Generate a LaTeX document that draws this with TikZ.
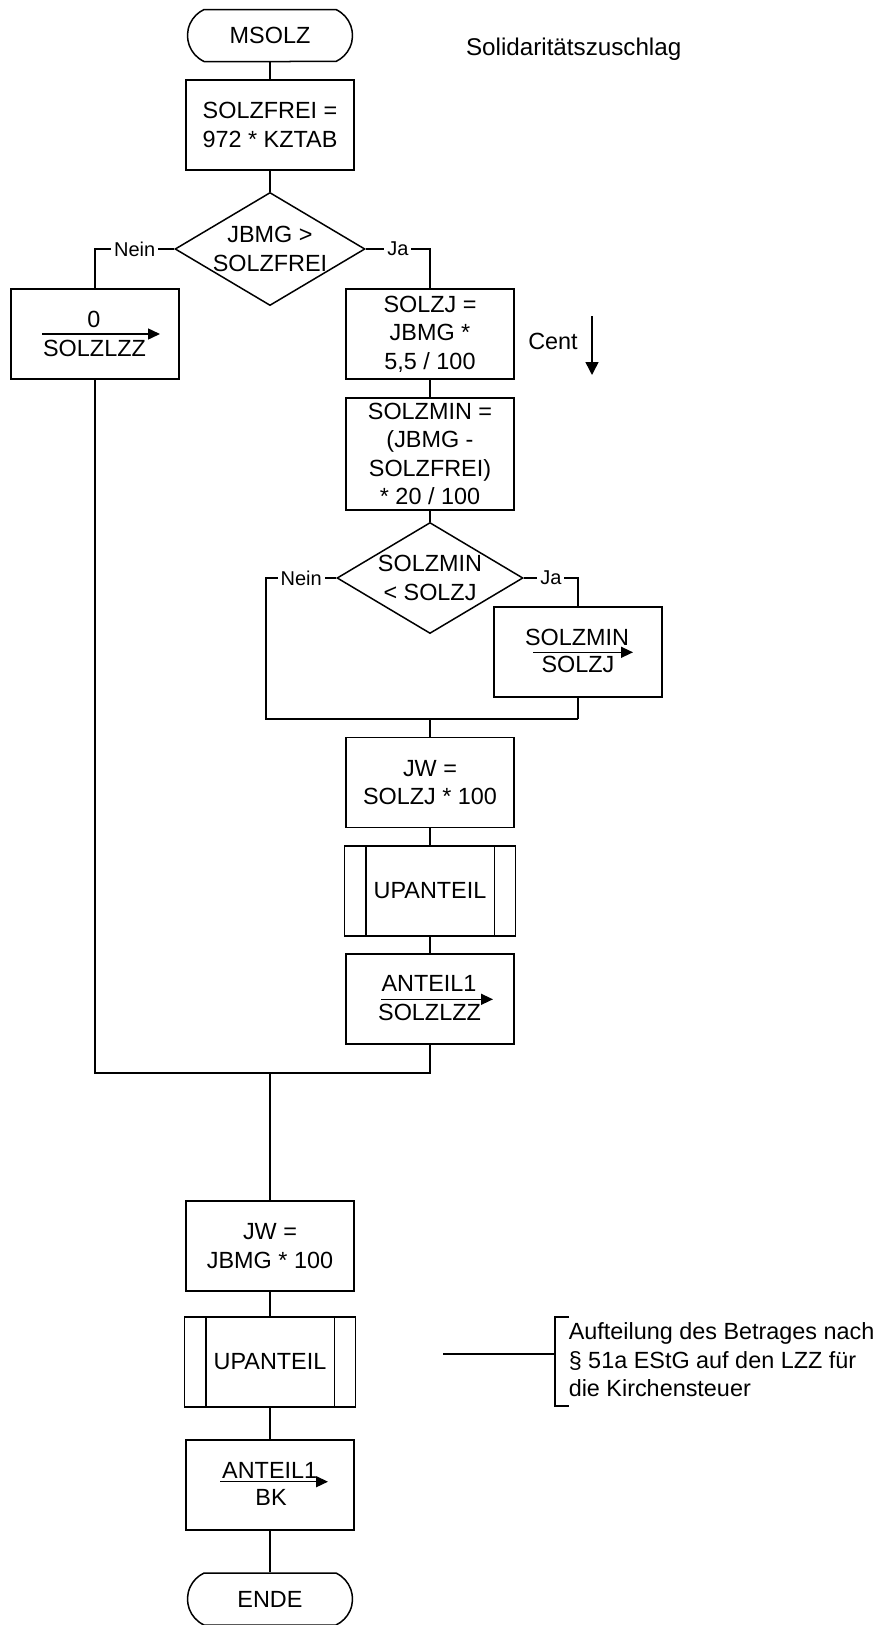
\documentclass[tikz,border=0pt]{standalone}
\usepackage{fontspec}
\setmainfont{Liberation Sans}
\usetikzlibrary{shapes.geometric,shapes.misc,arrows.meta}
\tikzset{
  box/.style={draw, rectangle, inner sep=0pt, minimum width=168pt, minimum height=90pt, align=center},
  term/.style={draw, rounded rectangle, rounded rectangle arc length=130, inner sep=0pt, minimum width=165pt, minimum height=52pt},
  dec/.style={draw, diamond, shape aspect=1.68, inner sep=0pt, minimum width=186pt, minimum height=111pt, align=center},
  lbl/.style={fill=white, inner xsep=3pt, inner ysep=1pt, font=\fontsize{20}{24}\selectfont},
  put/.style={-{Triangle[length=12pt,width=11pt]}},
}
\begin{document}
\begin{tikzpicture}[x=1pt, y=-1pt, line width=1.5pt, every node/.style={font=\fontsize{23.4}{28.4}\selectfont}]
    \useasboundingbox (0,0) rectangle (881,1625);
    \node[term] (ms) at (270,35.5) {MSOLZ};
    \node[anchor=base west, font=\fontsize{24.2}{29}\selectfont] (title) at (462,55) {Solidaritätszuschlag};
    \node[box] (sf) at (270,125) {SOLZFREI =\\972 * KZTAB};
    \node[dec] (d1) at (270,249) {JBMG >\\SOLZFREI};
    \node[box] (b0) at (95,334) {};
    \node[anchor=base] (b0a) at (94,327) {0};
    \node[anchor=base] (b0b) at (94.5,356) {SOLZLZZ};
    \draw[put] (42,334) -- (160,334);
    \node[box] (sj) at (430,334) {SOLZJ =\\JBMG *\\5,5 / 100};
    \node (cent) at (553,341) {Cent};
    \coordinate (c0) at (592,316);
    \coordinate (c1) at (592,375);
    \draw[-{Triangle[length=13pt,width=13pt]}] (c0) -- (c1);
    \node[box, minimum height=112pt] (sm) at (430,454) {SOLZMIN =\\(JBMG -\\SOLZFREI)\\* 20 / 100};
    \node[dec] (d2) at (430,578) {SOLZMIN\\< SOLZJ};
    \node[box] (smj) at (578,652) {};
    \node[anchor=base] (smja) at (577,645) {SOLZMIN};
    \node[anchor=base] (smjb) at (578,672.7) {SOLZJ};
    \draw[put] (533,652.3) -- (633,652.3);
    \coordinate (m1) at (266,719);
    \coordinate (m2) at (578,719);
    \node[box] (jw1) at (430,782.5) {JW =\\SOLZJ * 100};
    \node[box, minimum width=171pt] (up1) at (430,891) {UPANTEIL};
    \draw ([xshift=22pt]up1.north west) -- ([xshift=22pt]up1.south west) ([xshift=-22pt]up1.north east) -- ([xshift=-22pt]up1.south east);
    \node[box] (an1) at (430,999) {};
    \node[anchor=base] (an1a) at (429,991.7) {ANTEIL1};
    \node[anchor=base] (an1b) at (429.5,1020) {SOLZLZZ};
    \draw[put] (381,999.3) -- (493,999.3);
    \coordinate (m3) at (95,1073);
    \coordinate (m4) at (430,1073);
    \node[box] (jw2) at (270,1246) {JW =\\JBMG * 100};
    \node[box, minimum width=171pt] (up2) at (270,1362) {UPANTEIL};
    \draw ([xshift=22pt]up2.north west) -- ([xshift=22pt]up2.south west) ([xshift=-22pt]up2.north east) -- ([xshift=-22pt]up2.south east);
    \node[box] (an2) at (270,1485) {};
    \node[anchor=base] (an2a) at (269.7,1478) {ANTEIL1};
    \node[anchor=base] (an2b) at (271,1505) {BK};
    \draw[put] (220,1481.7) -- (328,1481.7);
    \node[term] (ende) at (270,1599) {ENDE};
    \coordinate (n0) at (443,1354);
    \coordinate (n1) at (555,1354);
    \coordinate (k1) at (569,1317);
    \coordinate (k2) at (569,1406);
    \node[anchor=north west, inner sep=0pt, align=left] (note) at (568,1322) {Aufteilung des Betrages nach\\§ 51a EStG auf den LZZ für\\die Kirchensteuer};
    \draw (ms.south) -- (sf.north);
    \draw (sf.south) -- (d1.north);
    \draw (d1.west) -| node[lbl,pos=0.25]{Nein} (b0.north);
    \draw (d1.east) -| node[lbl,pos=0.25]{Ja} (sj.north);
    \draw (sj.south) -- (sm.north);
    \draw (sm.south) -- (d2.north);
    \draw (d2.west) -| node[lbl,pos=0.25]{Nein} (m1) -- (m2);
    \draw (d2.east) -| node[lbl,pos=0.25]{Ja} (smj.north);
    \draw (smj.south) -- (m2);
    \draw (jw1.north |- m1) -- (jw1.north);
    \draw (jw1.south) -- (up1.north);
    \draw (up1.south) -- (an1.north);
    \draw (b0.south) -- (m3) -- (m4) -- (an1.south);
    \draw (jw2.north |- m3) -- (jw2.north);
    \draw (jw2.south) -- (up2.north);
    \draw (up2.south) -- (an2.north);
    \draw (an2.south) -- (ende.north);
    \draw (n0) -- (n1);
    \draw (k1) -| (n1) |- (k2);
\end{tikzpicture}
\end{document}
